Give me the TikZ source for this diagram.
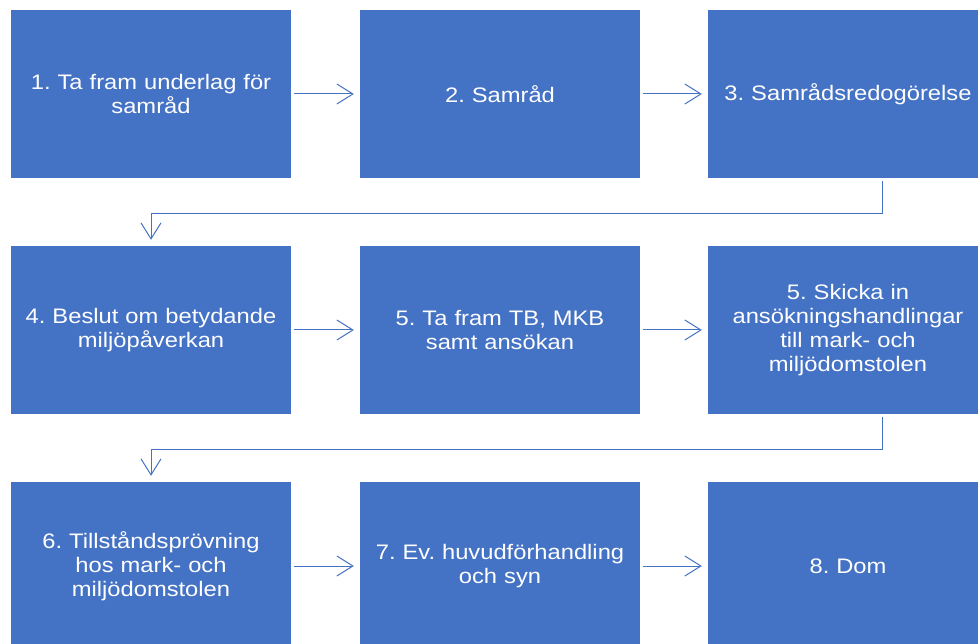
\documentclass[tikz,border=0pt]{standalone}
\usepackage{fontspec}
\setmainfont[FakeStretch=1.13]{Liberation Sans}
\usetikzlibrary{arrows.meta}
\definecolor{boxblue}{HTML}{4472C4}
\frenchspacing
\tikzset{
  stepbox/.style={fill=boxblue, draw=none, minimum width=280pt, minimum height=168pt, inner sep=0pt,
    text=white, align=center, text width=276pt, font=\fontsize{21pt}{24pt}\selectfont},
  conn/.style={draw=boxblue, line width=1pt, -{Straight Barb[length=16pt,width=20pt,line width=1pt]},
    shorten <=3pt, shorten >=6pt}
}
\begin{document}
\begin{tikzpicture}[x=1pt,y=-1pt]
\clip (0,0) rectangle (978,644);
\fill[white] (0,0) rectangle (978,644);
\node[stepbox] (b1) at (151,94) {1. Ta fram underlag för\\samråd};
\node[stepbox] (b2) at (500,94) {2. Samråd};
\node[stepbox] (b3) at (848,94) {3. Samrådsredogörelse};
\node[stepbox] (b4) at (151,330) {4. Beslut om betydande\\miljöpåverkan};
\node[stepbox] (b5) at (500,330) {5. Ta fram TB, MKB\\samt ansökan};
\node[stepbox] (b6) at (848,330) {5. Skicka in\\ansökningshandlingar\\till mark- och\\miljödomstolen};
\node[stepbox] (b7) at (151,566) {6. Tillståndsprövning\\hos mark- och\\miljödomstolen};
\node[stepbox] (b8) at (500,566) {7. Ev. huvudförhandling\\och syn};
\node[stepbox] (b9) at (848,566) {8. Dom};
\draw[conn] (b1) -- (b2);
\draw[conn] (b2) -- (b3);
\draw[conn] (b4) -- (b5);
\draw[conn] (b5) -- (b6);
\draw[conn] (b7) -- (b8);
\draw[conn] (b8) -- (b9);
\draw[conn] ([xshift=34pt]b3.south) -- ++(0,35) -| (b4.north);
\draw[conn] ([xshift=34pt]b6.south) -- ++(0,35) -| (b7.north);
\end{tikzpicture}
\end{document}
